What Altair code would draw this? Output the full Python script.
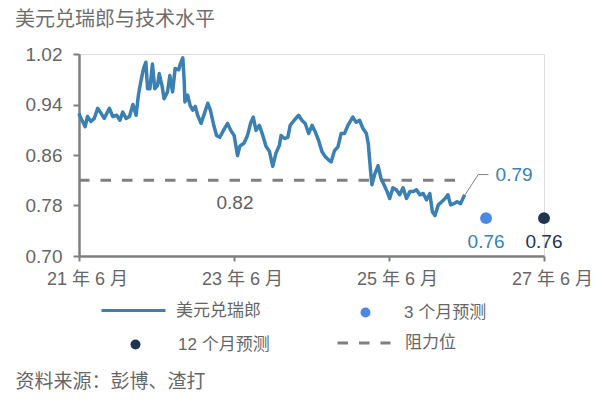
import altair as alt
import pandas as pd

FONT = "Liberation Sans, Noto Sans CJK SC"
GREY_TXT = "#666666"
AXIS_GREY = "#7f7f7f"

SERIES = "美元兑瑞郎"
F3 = "3 个月预测"
F12 = "12 个月预测"
RES = "阻力位"

C_LINE = "#3a80b2"
C_F3 = "#4a88e4"
C_F12 = "#1f344f"
C_RES = "#808080"

dates = [
    "2021-06-01", "2021-06-06", "2021-06-18", "2021-06-30", "2021-07-11", "2021-07-27",
    "2021-08-12", "2021-08-28", "2021-09-13", "2021-09-28", "2021-10-22", "2021-11-07",
    "2021-11-26", "2021-12-11", "2021-12-24", "2022-01-09", "2022-01-25", "2022-02-10",
    "2022-02-25", "2022-03-08", "2022-03-19", "2022-04-01", "2022-04-12", "2022-04-20",
    "2022-05-01", "2022-05-13", "2022-05-24", "2022-06-06", "2022-06-14", "2022-06-27",
    "2022-07-07", "2022-07-23", "2022-08-03", "2022-08-16", "2022-08-28", "2022-09-14",
    "2022-09-20", "2022-10-03", "2022-10-10", "2022-10-13", "2022-10-26", "2022-11-06",
    "2022-11-19", "2022-12-01", "2022-12-12", "2022-12-28", "2023-01-13", "2023-01-29",
    "2023-02-10", "2023-02-24", "2023-03-11", "2023-03-26", "2023-04-16", "2023-05-02",
    "2023-05-17", "2023-06-02", "2023-06-18", "2023-06-29", "2023-07-19", "2023-08-04",
    "2023-08-20", "2023-08-31", "2023-09-13", "2023-09-29", "2023-10-15", "2023-10-30",
    "2023-11-15", "2023-12-01", "2023-12-16", "2024-01-01", "2024-01-09", "2024-01-25",
    "2024-02-10", "2024-02-21", "2024-03-11", "2024-04-01", "2024-04-16", "2024-05-02",
    "2024-05-18", "2024-06-03", "2024-06-19", "2024-07-04", "2024-07-20", "2024-08-05",
    "2024-08-21", "2024-09-01", "2024-09-17", "2024-10-03", "2024-10-18", "2024-11-03",
    "2024-11-19", "2024-12-12", "2024-12-28", "2025-01-13", "2025-01-29", "2025-02-14",
    "2025-02-23", "2025-03-06", "2025-03-12", "2025-03-25", "2025-04-10", "2025-04-23",
    "2025-05-08", "2025-05-23", "2025-06-04", "2025-06-19", "2025-07-05", "2025-07-21",
    "2025-08-06", "2025-08-22", "2025-09-07", "2025-09-23", "2025-10-08", "2025-10-24",
    "2025-11-09", "2025-11-24", "2025-12-10", "2025-12-22", "2026-01-03", "2026-01-19",
    "2026-02-04", "2026-02-20", "2026-03-05", "2026-03-18", "2026-04-03", "2026-04-18",
    "2026-05-04", "2026-05-23",
]
values = [
    0.926, 0.921, 0.913, 0.905, 0.921, 0.913,
    0.918, 0.934, 0.926, 0.918, 0.934, 0.921,
    0.923, 0.915, 0.928, 0.918, 0.921, 0.940,
    0.923, 0.955, 0.976, 0.997, 1.007, 0.965,
    0.965, 1.004, 0.965, 0.970, 0.989, 0.970,
    0.949, 0.960, 0.986, 0.960, 0.997, 0.995,
    1.003, 1.014, 0.975, 0.944, 0.955, 0.939,
    0.931, 0.937, 0.923, 0.910, 0.926, 0.942,
    0.931, 0.910, 0.891, 0.888, 0.901, 0.910,
    0.899, 0.891, 0.859, 0.874, 0.879, 0.891,
    0.912, 0.920, 0.899, 0.907, 0.891, 0.874,
    0.866, 0.842, 0.863, 0.875, 0.891, 0.886,
    0.888, 0.907, 0.915, 0.923, 0.915, 0.910,
    0.894, 0.907, 0.896, 0.883, 0.865, 0.857,
    0.852, 0.849, 0.867, 0.873, 0.894, 0.894,
    0.907, 0.920, 0.912, 0.915, 0.902, 0.894,
    0.878, 0.834, 0.813, 0.829, 0.843, 0.824,
    0.813, 0.802, 0.791, 0.808, 0.805, 0.797,
    0.808, 0.791, 0.802, 0.802, 0.805, 0.797,
    0.799, 0.789, 0.799, 0.770, 0.764, 0.781,
    0.786, 0.791, 0.797, 0.781, 0.783, 0.786,
    0.783, 0.797,
]

f3_date, f3_value = "2026-09-01", 0.76
f12_date, f12_value = "2027-06-01", 0.76

res_dates = ["2021-06-01", "2026-05-25"]
res_values = [0.82, 0.82]

leader_dates = ["2026-05-25", "2026-07-26", "2026-09-12"]
leader_values = [0.797, 0.829, 0.829]

label_texts = ["0.82", "0.79", "0.76", "0.76"]
label_dates = ["2023-06-06", "2027-01-11", "2026-09-01", "2027-06-01"]
label_values = [0.784, 0.829, 0.7227, 0.7227]
label_colors = ["#5f5f5f", C_LINE, C_LINE, C_F12]

y_ticks = [0.70, 0.78, 0.86, 0.94, 1.02]

df_series = pd.DataFrame({"date": dates, "value": values, "series": SERIES})
df_f3 = pd.DataFrame({"date": [f3_date], "value": [f3_value], "series": [F3]})
df_f12 = pd.DataFrame({"date": [f12_date], "value": [f12_value], "series": [F12]})
df_res = pd.DataFrame({"date": res_dates, "value": res_values, "series": RES})
df_leader = pd.DataFrame({"date": leader_dates, "value": leader_values})
df_labels = pd.DataFrame({"date": label_dates, "value": label_values,
                          "text": label_texts, "tcolor": label_colors})

xscale = alt.Scale(type="utc", domain=[alt.DateTime(year=2021, month=6, date=1, utc=True),
                                       alt.DateTime(year=2027, month=6, date=1, utc=True)])
yscale = alt.Scale(domain=[0.70, 1.02], nice=False, zero=False)

xaxis = alt.Axis(
    values=[alt.DateTime(year=y, month=6, date=1, utc=True) for y in (2021, 2023, 2025, 2027)],
    labelExpr="utcFormat(datum.value, '%y') + ' 年 ' + utcFormat(datum.value, '%-m') + ' 月'",
    grid=False, domainColor=AXIS_GREY, domainWidth=2.5, tickColor=AXIS_GREY, tickWidth=2,
    tickSize=5, labelFontSize=18, labelColor=GREY_TXT, labelFont=FONT, labelPadding=9,
    labelFlush=False, labelOffset=8, labelOverlap=False,
    title="资料来源：彭博、渣打", titleFont=FONT, titleFontSize=19, titleFontWeight="normal",
    titleColor=GREY_TXT, titleAnchor="start", titleAlign="left", titleBaseline="middle",
    titleX=-64, titleY=125,
)
yaxis = alt.Axis(
    values=y_ticks, format=".2f", grid=False, domainColor=AXIS_GREY, domainWidth=2.5,
    tickColor=AXIS_GREY, tickWidth=2, tickSize=6, labelFontSize=19, labelColor=GREY_TXT,
    labelFont=FONT, labelPadding=11, title=None, labelOverlap=False,
)

x_enc = alt.X("date:T", scale=xscale, axis=xaxis)
y_enc = alt.Y("value:Q", scale=yscale, axis=yaxis)


def leg(x, y, **kw):
    base = dict(title=None, orient="none", legendX=x, legendY=y, padding=0,
                labelFontSize=17, labelColor=GREY_TXT, labelFont=FONT, labelLimit=300)
    base.update(kw)
    return alt.Legend(**base)


line = alt.Chart(df_series).mark_line(strokeWidth=3.5, strokeJoin="round").encode(
    x=x_enc, y=y_enc,
    color=alt.Color("series:N", scale=alt.Scale(domain=[SERIES], range=[C_LINE]),
                    legend=leg(21, 223, symbolType="stroke", symbolSize=4096,
                               symbolStrokeWidth=3, labelOffset=9)))

res = alt.Chart(df_res).mark_line(strokeWidth=3, color=C_RES).encode(
    x=x_enc, y=y_enc,
    strokeDash=alt.StrokeDash("series:N",
                              scale=alt.Scale(domain=[RES], range=[[10.5, 11]]),
                              legend=leg(257, 261, symbolType="stroke", symbolSize=2809,
                                         symbolStrokeWidth=3, symbolStrokeColor=C_RES,
                                         labelOffset=13)))

f3 = alt.Chart(df_f3).mark_circle(size=140, opacity=1).encode(
    x=x_enc, y=y_enc,
    fill=alt.Fill("series:N", scale=alt.Scale(domain=[F3], range=[C_F3]),
                  legend=leg(278, 250, symbolType="circle", symbolSize=100,
                             symbolStrokeWidth=0, labelOffset=30)))

f12 = alt.Chart(df_f12).mark_point(size=140, opacity=1, filled=True, color=C_F12).encode(
    x=x_enc, y=y_enc,
    shape=alt.Shape("series:N", scale=alt.Scale(domain=[F12], range=["circle"]),
                    legend=leg(48, 282, symbolType="circle", symbolSize=100,
                               symbolFillColor=C_F12, symbolStrokeWidth=0, labelOffset=34)))

leader = alt.Chart(df_leader).mark_line(strokeWidth=1, color="#808080").encode(
    x=x_enc, y=y_enc)

labels = alt.Chart(df_labels).mark_text(fontSize=19, font=FONT, align="center",
                                        baseline="middle").encode(
    x=x_enc, y=y_enc, text="text:N", color=alt.Color("tcolor:N", scale=None))

chart = alt.layer(res, line, leader, f3, f12, labels).properties(
    width=465, height=202,
    autosize=alt.AutoSizeParams(type="none"),
    padding={"left": 71, "top": 46, "right": 50, "bottom": 142},
    title=alt.TitleParams(text="美元兑瑞郎与技术水平", anchor="start", frame="group", dx=-64,
                          fontSize=20, color="#6e6e6e", fontWeight="normal", font=FONT,
                          offset=15),
).configure_view(stroke=None).configure(background="white")

chart.save("out.html", embed_options={"renderer": "svg", "actions": False})
